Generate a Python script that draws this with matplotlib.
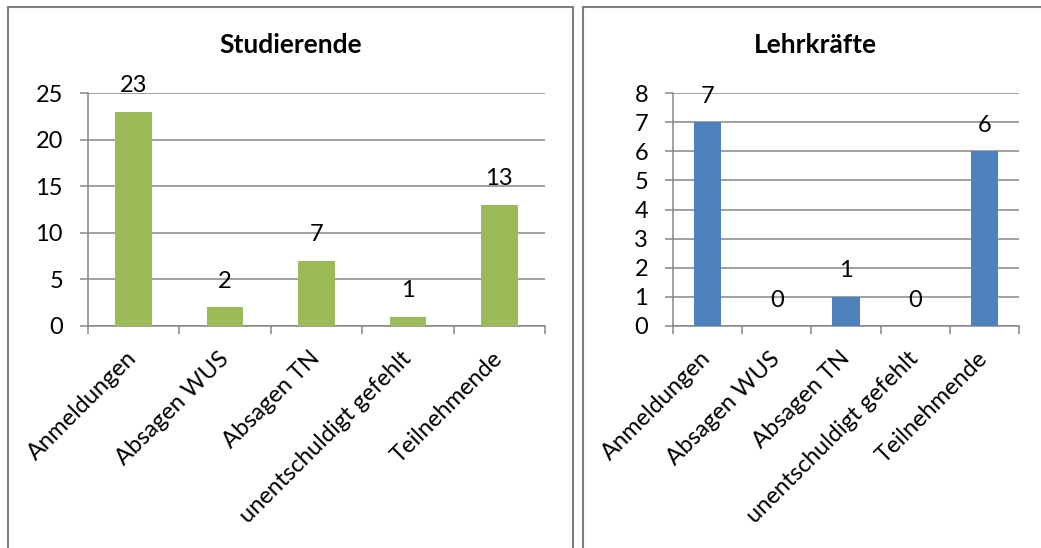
import matplotlib
matplotlib.use("Agg")
import matplotlib.pyplot as plt
from matplotlib.patches import Rectangle
from matplotlib.transforms import ScaledTranslation
import numpy as np

plt.rcParams["font.family"] = ["Lato", "DejaVu Sans"]

categories = [
    "Anmeldungen",
    "Absagen WUS",
    "Absagen TN",
    "unentschuldigt gefehlt",
    "Teilnehmende",
]
studierende = [23, 2, 7, 1, 13]
lehrkraefte = [7, 0, 1, 0, 6]

GREEN = "#9BBB59"
BLUE = "#4F81BD"
GRID = "#868686"
W, H = 1041, 548


def fx(px):
    return px / W


def fy(py):
    return 1 - py / H


fig = plt.figure(figsize=(W / 100, H / 100), dpi=100)

# panel frames (Excel chart areas)
fig.patches.append(Rectangle((fx(8), fy(560)), fx(573) - fx(8), fy(7) - fy(560),
                             transform=fig.transFigure, fill=False,
                             edgecolor="#7f7f7f", linewidth=1.5))
fig.patches.append(Rectangle((fx(583), fy(560)), fx(1060) - fx(583), fy(7) - fy(560),
                             transform=fig.transFigure, fill=False,
                             edgecolor="#7f7f7f", linewidth=1.5))


def draw_panel(rect, values, color, ymax, ystep, title, title_x):
    ax = fig.add_axes(rect)
    x = np.arange(len(values))
    ax.bar(x, values, width=0.4, color=color, zorder=3)
    for xi, v in zip(x, values):
        ax.annotate(str(v), (xi, v), xytext=(0, 18.7), textcoords="offset points",
                    ha="center", va="center", fontsize=17, zorder=4)
    ax.set_xlim(-0.5, len(values) - 0.5)
    ax.set_ylim(0, ymax)
    ax.set_yticks(np.arange(0, ymax + 1, ystep))
    ax.set_xticks(np.arange(-0.5, len(values), 1.0))
    ax.set_xticklabels([])
    ax.set_xticks(x, minor=True)
    labels = ax.set_xticklabels(categories, minor=True, rotation=45, ha="right",
                                va="center", rotation_mode="anchor", fontsize=17)
    # nudge labels a bit left/down like the Excel layout
    shift = ScaledTranslation(-0.04, -0.02, fig.dpi_scale_trans)
    for lab in labels:
        lab.set_transform(lab.get_transform() + shift)
    ax.tick_params(axis="x", which="minor", length=0, pad=21)
    ax.tick_params(axis="x", which="major", length=6, width=1.1, color=GRID)
    ax.tick_params(axis="y", length=6, width=1.1, color=GRID, labelsize=17, pad=12)
    ax.grid(axis="y", color=GRID, linewidth=1.1, zorder=0)
    for s in ["top", "right"]:
        ax.spines[s].set_visible(False)
    for s in ["left", "bottom"]:
        ax.spines[s].set_color(GRID)
        ax.spines[s].set_linewidth(1.1)
    fig.text(title_x, fy(45), title, ha="center", va="center",
             fontsize=19, fontweight="bold")
    return ax


draw_panel([fx(88), fy(326), fx(545) - fx(88), fy(93) - fy(326)],
           studierende, GREEN, 25, 5, "Studierende", fx(291))
draw_panel([fx(673), fy(326), fx(1019) - fx(673), fy(93) - fy(326)],
           lehrkraefte, BLUE, 8, 1, "Lehrkräfte", fx(815))

fig.savefig("out.png", dpi=100)
